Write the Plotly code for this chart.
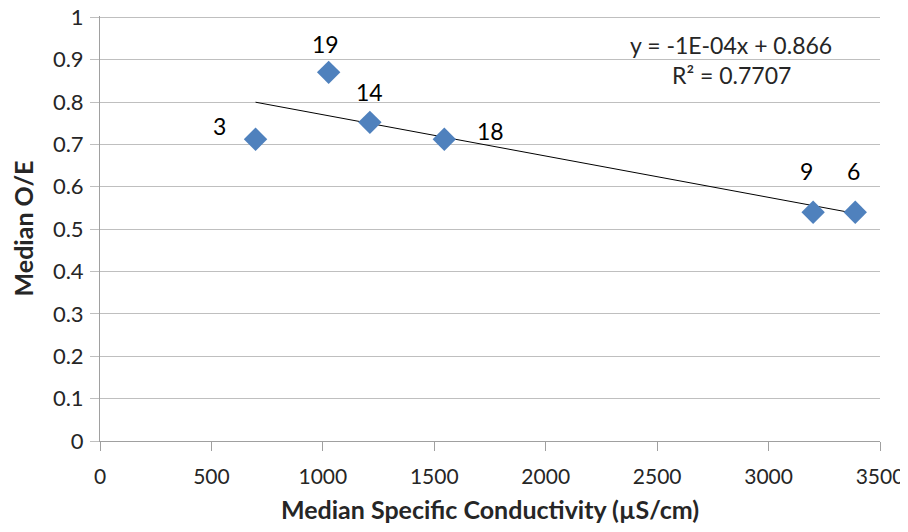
import numpy as np
import plotly.graph_objects as go

sites = ["3", "19", "14", "18", "9", "6"]
conductivity = [698, 1026, 1211, 1545, 3200, 3389]
median_oe = [0.712, 0.870, 0.752, 0.712, 0.540, 0.540]

x_ticks = [0, 500, 1000, 1500, 2000, 2500, 3000, 3500]
y_ticks = [0, 0.1, 0.2, 0.3, 0.4, 0.5, 0.6, 0.7, 0.8, 0.9, 1]

# label pixel offsets (style only)
label_shift = {"3": (-36, 13), "19": (-3, 28), "14": (0, 30), "18": (46, 8), "9": (-7, 41), "6": (-2, 41)}

FONT = "Lato"
TXT = "#262626"

slope, intercept = np.polyfit(conductivity, median_oe, 1)
xl = np.array([min(conductivity), max(conductivity)])
yl = slope * xl + intercept

fig = go.Figure()
fig.add_trace(go.Scatter(x=xl, y=yl, mode="lines", line=dict(color="#000000", width=1),
                         hoverinfo="skip", showlegend=False))
fig.add_trace(go.Scatter(x=conductivity, y=median_oe, mode="markers",
                         marker=dict(symbol="diamond", size=18, color="#4F81BD"),
                         showlegend=False))

for s, xv, yv in zip(sites, conductivity, median_oe):
    dx, dy = label_shift[s]
    fig.add_annotation(x=xv, y=yv, text=s, showarrow=False, xshift=dx, yshift=dy,
                       font=dict(family=FONT, size=23, color="#000000"))

fig.add_annotation(xref="paper", yref="paper", x=0.809, y=0.932, xanchor="center", yanchor="middle",
                   text="y = -1E-04x + 0.866", showarrow=False,
                   font=dict(family=FONT, size=23, color=TXT))
fig.add_annotation(xref="paper", yref="paper", x=0.809, y=0.861, xanchor="center", yanchor="middle",
                   text="R² = 0.7707", showarrow=False,
                   font=dict(family=FONT, size=23, color=TXT))

# page body adds an 8px margin, so the figure is smaller than the window
fig.update_layout(
    width=900, height=516,
    margin=dict(l=92, r=28, t=8, b=83),
    paper_bgcolor="white", plot_bgcolor="white",
    font=dict(family=FONT, color=TXT),
    xaxis=dict(range=[0, 3500], tickvals=x_ticks, showgrid=False, zeroline=False, automargin=False,
               showline=True, linecolor="#A0A0A0", linewidth=1, ticklabeloverflow="allow",
               ticks="outside", ticklen=9, tickcolor="#A0A0A0", ticklabelstandoff=8,
               tickfont=dict(family=FONT, size=21, color=TXT),
               title=dict(text="<b>Median Specific Conductivity (µS/cm)</b>",
                          font=dict(family=FONT, size=25, color=TXT), standoff=16)),
    yaxis=dict(range=[0, 1.003], tickvals=y_ticks, showgrid=True, gridcolor="#BFBFBF", gridwidth=1,
               zeroline=False, showline=True, linecolor="#A0A0A0", linewidth=1, automargin=False,
               ticklabeloverflow="allow",
               ticks="outside", ticklen=9, tickcolor="#BFBFBF", ticklabelstandoff=2,
               tickfont=dict(family=FONT, size=22, color=TXT),
               title=dict(text="<b>Median O/E</b>",
                          font=dict(family=FONT, size=25, color=TXT), standoff=18)),
)

fig.write_html("out.html")
